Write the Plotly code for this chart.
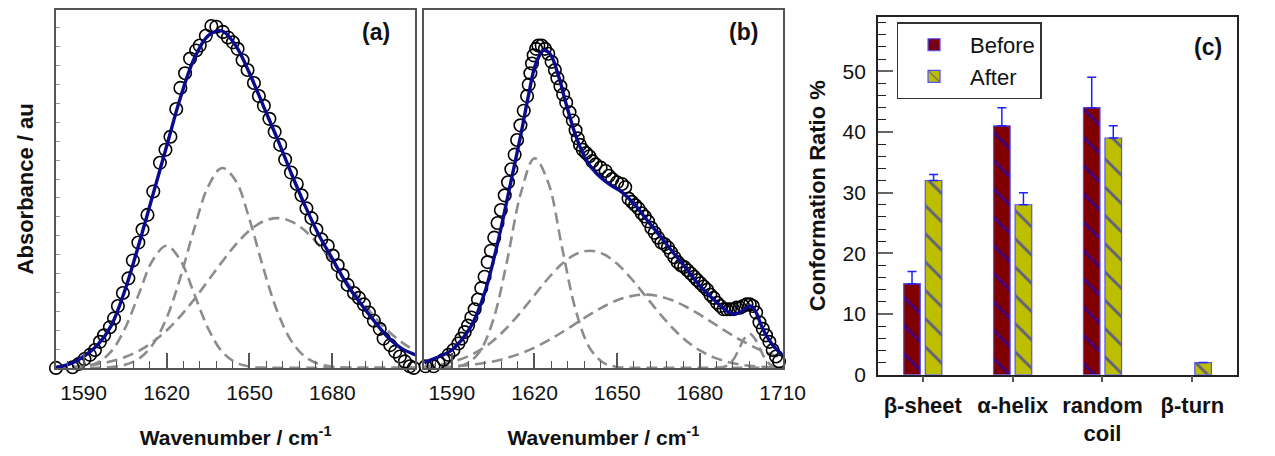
import plotly.graph_objects as go

# ---------------- Panel (a) data ----------------
a_wn = [1580.0, 1586.0, 1588.2, 1590.3, 1592.3, 1594.1, 1595.9, 1597.4, 1599.5, 1601.0,
        1602.4, 1604.2, 1606.2, 1607.8, 1609.8, 1611.3, 1613.1, 1615.2, 1617.6, 1619.6,
        1621.4, 1623.5, 1625.0, 1626.7, 1628.5, 1630.7, 1632.0, 1634.2, 1636.2, 1638.0,
        1640.4, 1642.2, 1644.0, 1645.7, 1647.5, 1649.3, 1651.6, 1653.4, 1655.2, 1657.2,
        1659.1, 1661.1, 1662.9, 1665.0, 1667.1, 1668.8, 1670.6, 1672.4, 1674.2, 1676.0,
        1678.3, 1680.1, 1681.9, 1683.7, 1685.5, 1687.8, 1689.6, 1691.4, 1693.2, 1695.0,
        1697.1, 1698.5, 1700.9, 1702.7, 1704.4, 1706.2, 1708.0, 1709.4]
a_abs = [0.000, 0.002, 0.012, 0.027, 0.040, 0.055, 0.080, 0.100, 0.125, 0.152,
         0.190, 0.230, 0.275, 0.330, 0.385, 0.425, 0.470, 0.542, 0.630, 0.670,
         0.710, 0.795, 0.860, 0.905, 0.950, 0.975, 0.990, 1.020, 1.050, 1.048,
         1.032, 1.015, 1.000, 0.980, 0.945, 0.915, 0.875, 0.835, 0.805, 0.765,
         0.725, 0.685, 0.640, 0.600, 0.565, 0.530, 0.490, 0.460, 0.425, 0.395,
         0.375, 0.345, 0.315, 0.285, 0.255, 0.230, 0.215, 0.195, 0.170, 0.145,
         0.120, 0.090, 0.070, 0.050, 0.035, 0.020, 0.005, 0.000]

wn5 = [1580, 1585, 1590, 1595, 1600, 1605, 1610, 1615, 1620, 1625, 1630, 1635, 1640, 1645,
       1650, 1655, 1660, 1665, 1670, 1675, 1680, 1685, 1690, 1695, 1700, 1705, 1710]
a_fit = [0.002, 0.012, 0.035, 0.070, 0.130, 0.240, 0.380, 0.530, 0.680, 0.830, 0.950, 1.020,
         1.035, 0.990, 0.905, 0.805, 0.705, 0.600, 0.500, 0.410, 0.335, 0.260, 0.200, 0.145,
         0.095, 0.060, 0.040]
a_band1 = [0.0001, 0.0008, 0.0042, 0.0165, 0.0507, 0.1218, 0.2274, 0.3309, 0.375, 0.3309,
           0.2274, 0.1218, 0.0507, 0.0165, 0.0042, 0.0008, 0.0001, 0, 0, 0, 0, 0, 0, 0, 0, 0, 0]
a_band2 = [0, 0, 0.0001, 0.0007, 0.0027, 0.0096, 0.0284, 0.0717, 0.153, 0.278, 0.427, 0.556,
           0.614, 0.575, 0.456, 0.307, 0.175, 0.0846, 0.0347, 0.012, 0.0036, 0.0009, 0.0002,
           0, 0, 0, 0]
a_band3 = [0.0018, 0.0035, 0.0065, 0.0117, 0.0202, 0.0333, 0.0525, 0.0793, 0.1147, 0.1589,
           0.2106, 0.2674, 0.325, 0.3784, 0.4218, 0.4501, 0.46, 0.4501, 0.4218, 0.3784, 0.325,
           0.2674, 0.2106, 0.1589, 0.1147, 0.0793, 0.0525]

# ---------------- Panel (b) data ----------------
b_wn = [1580.5, 1583.4, 1585.2, 1587.0, 1588.8, 1590.6, 1592.4, 1593.5, 1594.7, 1595.9,
        1597.1, 1598.3, 1599.5, 1600.7, 1601.9, 1603.0, 1604.2, 1605.4, 1606.6, 1607.8,
        1609.2, 1610.4, 1611.6, 1612.8, 1613.7, 1614.9, 1616.1, 1617.3, 1617.9, 1618.5,
        1619.1, 1619.7, 1620.6, 1621.4, 1622.6, 1623.8, 1625.0, 1626.2, 1627.4, 1628.3,
        1629.4, 1630.4, 1631.5, 1632.7, 1633.9, 1634.9, 1635.7, 1636.5, 1637.5, 1638.7,
        1639.9, 1641.0, 1642.2, 1644.0, 1645.8, 1647.0, 1648.2, 1650.0, 1651.7, 1652.9,
        1654.1, 1655.3, 1656.5, 1657.7, 1658.9, 1660.0, 1661.2, 1662.4, 1663.6, 1664.8,
        1666.0, 1667.2, 1668.4, 1669.5, 1670.7, 1671.9, 1673.1, 1674.3, 1675.5, 1676.7,
        1677.9, 1679.0, 1680.2, 1681.4, 1682.6, 1683.8, 1685.0, 1686.2, 1687.4, 1688.6,
        1689.7, 1690.9, 1692.1, 1693.3, 1694.5, 1695.7, 1696.9, 1698.1, 1699.2, 1700.4,
        1701.6, 1702.8, 1704.0, 1705.2, 1706.4, 1707.6, 1708.7]
b_abs = [0.005, 0.005, 0.015, 0.025, 0.040, 0.055, 0.075, 0.090, 0.110, 0.130,
         0.155, 0.180, 0.210, 0.245, 0.280, 0.325, 0.360, 0.400, 0.445, 0.485,
         0.530, 0.570, 0.610, 0.655, 0.700, 0.745, 0.790, 0.835, 0.870, 0.905,
         0.935, 0.960, 0.980, 0.990, 0.990, 0.980, 0.965, 0.940, 0.915, 0.890,
         0.865, 0.840, 0.815, 0.785, 0.760, 0.730, 0.705, 0.685, 0.670, 0.660,
         0.650, 0.635, 0.625, 0.615, 0.605, 0.590, 0.580, 0.570, 0.565, 0.555,
         0.520, 0.510, 0.500, 0.490, 0.475, 0.465, 0.450, 0.430, 0.415, 0.400,
         0.385, 0.380, 0.370, 0.355, 0.340, 0.325, 0.315, 0.310, 0.300, 0.290,
         0.280, 0.270, 0.260, 0.250, 0.240, 0.225, 0.215, 0.200, 0.190, 0.180,
         0.180, 0.180, 0.180, 0.185, 0.185, 0.190, 0.195, 0.195, 0.190, 0.170,
         0.140, 0.120, 0.100, 0.080, 0.055, 0.035, 0.020]

b_fit_wn = [1580.0, 1581.1, 1590.0, 1597.1, 1601.9, 1605.4, 1608.4, 1611.4, 1614.9, 1617.9,
            1620.3, 1623.2, 1625.6, 1628.6, 1631.5, 1635.1, 1638.7, 1642.2, 1647.0, 1651.7,
            1656.5, 1661.2, 1666.0, 1670.7, 1675.5, 1680.2, 1685.0, 1689.7, 1692.1, 1694.5,
            1696.9, 1698.6, 1700.4, 1702.8, 1706.4, 1710.0]
b_fit = [0.015, 0.020, 0.055, 0.130, 0.230, 0.340, 0.450, 0.570, 0.710, 0.840,
         0.930, 0.975, 0.965, 0.900, 0.810, 0.710, 0.640, 0.600, 0.565, 0.540,
         0.500, 0.450, 0.400, 0.350, 0.300, 0.250, 0.210, 0.175, 0.165, 0.170,
         0.185, 0.190, 0.170, 0.120, 0.070, 0.040]
b_band1 = [0, 0.0003, 0.0021, 0.0117, 0.0482, 0.1464, 0.3265, 0.535, 0.644, 0.569, 0.3694,
           0.176, 0.0617, 0.0159, 0.003, 0.0004, 0, 0, 0, 0, 0, 0, 0, 0, 0, 0, 0]
b_band2 = [0.005, 0.0098, 0.0184, 0.0323, 0.0536, 0.0837, 0.1233, 0.1711, 0.2236, 0.2754,
           0.3196, 0.3494, 0.36, 0.3494, 0.3196, 0.2754, 0.2236, 0.1711, 0.1233, 0.0837,
           0.0536, 0.0323, 0.0184, 0.0098, 0.005, 0.0024, 0.0011]
b_band3 = [0.0013, 0.0025, 0.0045, 0.0077, 0.0126, 0.02, 0.0305, 0.0445, 0.0625, 0.0844,
           0.1095, 0.1365, 0.1634, 0.1879, 0.2077, 0.2205, 0.225, 0.2205, 0.2077, 0.1879,
           0.1634, 0.1365, 0.1095, 0.0844, 0.0625, 0.0445, 0.0305]
b_band4_wn = [1686, 1688, 1690, 1692, 1694, 1696, 1698, 1700, 1702, 1704, 1706, 1708, 1710]
b_band4 = [0.0003, 0.0018, 0.0077, 0.0241, 0.0546, 0.0892, 0.105, 0.0892, 0.0546, 0.0241,
           0.0077, 0.0018, 0.0003]

# ---------------- Panel (c) data ----------------
categories = ["β-sheet", "α-helix", "random<br>coil", "β-turn"]
before = [15, 41, 44, None]
before_err = [2, 3, 5, 0]
after = [32, 28, 39, 2]
after_err = [1, 2, 2, 0]

wn_ticks_a = [1590, 1620, 1650, 1680]
wn_ticks_b = [1590, 1620, 1650, 1680, 1710]

FONT = "Liberation Sans, Arial, sans-serif"
GRAY = "#8c8c8c"
NAVY = "#0a0a8c"
AX = "#555555"

fig = go.Figure()


def add_spectrum(xa, ya, bands, data_x, data_y, fit_x, fit_y):
    for bx, by in bands:
        fig.add_trace(go.Scatter(x=bx, y=by, mode="lines", line_shape="spline",
                                 line=dict(color=GRAY, width=2.6, dash="11px,6px"),
                                 xaxis=xa, yaxis=ya, showlegend=False, hoverinfo="skip"))
    fig.add_trace(go.Scatter(x=data_x, y=data_y, mode="markers", cliponaxis=False,
                             marker=dict(symbol="circle-open", size=12.5, color="black",
                                         line=dict(width=1.6)),
                             xaxis=xa, yaxis=ya, showlegend=False))
    fig.add_trace(go.Scatter(x=fit_x, y=fit_y, mode="lines", line_shape="spline",
                             line=dict(color=NAVY, width=3.4),
                             xaxis=xa, yaxis=ya, showlegend=False))


add_spectrum("x", "y", [(wn5, a_band1), (wn5, a_band2), (wn5, a_band3)],
             a_wn, a_abs, wn5, a_fit)
add_spectrum("x2", "y2", [(wn5, b_band1), (wn5, b_band2), (wn5, b_band3), (b_band4_wn, b_band4)],
             b_wn, b_abs, b_fit_wn, b_fit)

fig.add_trace(go.Bar(x=categories, y=before, name="Before", xaxis="x3", yaxis="y3",
                     marker=dict(color="#800000", line=dict(color="#5050ff", width=1.2),
                                 pattern=dict(shape="\\", fgcolor="#0000ff", size=20, solidity=0.14)),
                     error_y=dict(type="data", array=before_err, arrayminus=[0, 0, 0, 0],
                                  symmetric=False, color="#2020ff", thickness=1.5, width=4.5)))
fig.add_trace(go.Bar(x=categories, y=after, name="After", xaxis="x3", yaxis="y3",
                     marker=dict(color="#bebe00", line=dict(color="#5050ff", width=1.2),
                                 pattern=dict(shape="\\", fgcolor="#0000ff", size=20, solidity=0.14)),
                     error_y=dict(type="data", array=after_err, arrayminus=[0, 0, 0, 0],
                                  symmetric=False, color="#2020ff", thickness=1.5, width=4.5)))

W, H = 1275, 456


def xd(a, b):
    return [a / W, b / W]


def yd(top, bottom):
    return [(H - bottom) / H, (H - top) / H]


spec_x_common = dict(range=[1580, 1710], ticks="inside", ticklen=15, tickwidth=1.5, tickcolor=AX,
                     minor=dict(tickmode="linear", tick0=1590, dtick=6, ticks="inside",
                                ticklen=7, tickwidth=1.2, tickcolor=AX),
                     showline=True, linecolor=AX, linewidth=1.5, mirror=True,
                     showgrid=False, zeroline=False, ticklabelstandoff=5,
                     tickfont=dict(family=FONT, size=21, color="#111"),
                     title=dict(text="Wavenumber / cm<sup>-1</sup>", standoff=27,
                                font=dict(family=FONT, size=21, color="#111", weight="bold")))

fig.update_layout(
    width=W, height=H, margin=dict(l=0, r=0, t=0, b=0),
    paper_bgcolor="white", plot_bgcolor="white",
    font=dict(family=FONT, color="#111"),
    barmode="group", bargap=0.52, bargroupgap=0.23,
    xaxis=dict(domain=xd(57, 423), anchor="y", tickmode="array", tickvals=wn_ticks_a,
               **spec_x_common),
    yaxis=dict(domain=yd(10, 377), anchor="x", range=[0, 1.1], showticklabels=False,
               ticks="inside", ticklen=4, tickcolor="#999", dtick=0.058,
               showline=True, linecolor=AX, linewidth=1.5, mirror=True,
               showgrid=False, zeroline=False,
               title=dict(text="Absorbance / au", standoff=15,
                          font=dict(family=FONT, size=22, color="#111", weight="bold"))),
    xaxis2=dict(domain=xd(432, 797), anchor="y2", tickmode="array", tickvals=wn_ticks_b,
                **spec_x_common),
    yaxis2=dict(domain=yd(10, 377), anchor="x2", range=[0, 1.1], showticklabels=False,
                ticks="", showline=True, linecolor=AX, linewidth=1.5, mirror=True,
                showgrid=False, zeroline=False),
    xaxis3=dict(domain=xd(894, 1260), anchor="y3", range=[-0.5, 3.5],
                ticks="outside", ticklen=6, tickcolor=AX, tickwidth=1.5,
                showline=True, linecolor="#222", linewidth=1.5, mirror=True,
                showgrid=False, zeroline=False, ticklabelstandoff=4,
                tickfont=dict(family=FONT, size=22, color="#111", weight="bold")),
    yaxis3=dict(domain=yd(17, 384), anchor="x3", range=[0, 59],
                tickmode="linear", tick0=0, dtick=10, ticks="inside", ticklen=15,
                tickwidth=1.5, tickcolor="#666",
                minor=dict(tickmode="linear", tick0=0, dtick=2, ticks="inside", ticklen=8,
                           tickwidth=1.2, tickcolor="#222"),
                showline=True, linecolor="#222", linewidth=1.5, mirror=True,
                showgrid=False, zeroline=False, ticklabelstandoff=6,
                tickfont=dict(family=FONT, size=21, color="#111"),
                title=dict(text="Conformation Ratio %", standoff=11,
                           font=dict(family=FONT, size=22, color="#111", weight="bold"))),
    legend=dict(x=913 / W, y=1 - 23 / H, xanchor="left", yanchor="top",
                bgcolor="white", bordercolor="#333", borderwidth=1.5,
                font=dict(family=FONT, size=22, color="#111"), itemwidth=62,
                tracegroupgap=0),
    annotations=[
        dict(text="(a)", x=383 / W, y=1 - 33 / H, xref="paper", yref="paper",
             xanchor="center", yanchor="middle",
             showarrow=False, font=dict(family=FONT, size=23, color="#111", weight="bold")),
        dict(text="(b)", x=757 / W, y=1 - 33 / H, xref="paper", yref="paper",
             xanchor="center", yanchor="middle",
             showarrow=False, font=dict(family=FONT, size=23, color="#111", weight="bold")),
        dict(text="(c)", x=1230 / W, y=1 - 48 / H, xref="paper", yref="paper",
             xanchor="center", yanchor="middle",
             showarrow=False, font=dict(family=FONT, size=23, color="#111", weight="bold")),
    ],
)

fig.write_html("out.html")
